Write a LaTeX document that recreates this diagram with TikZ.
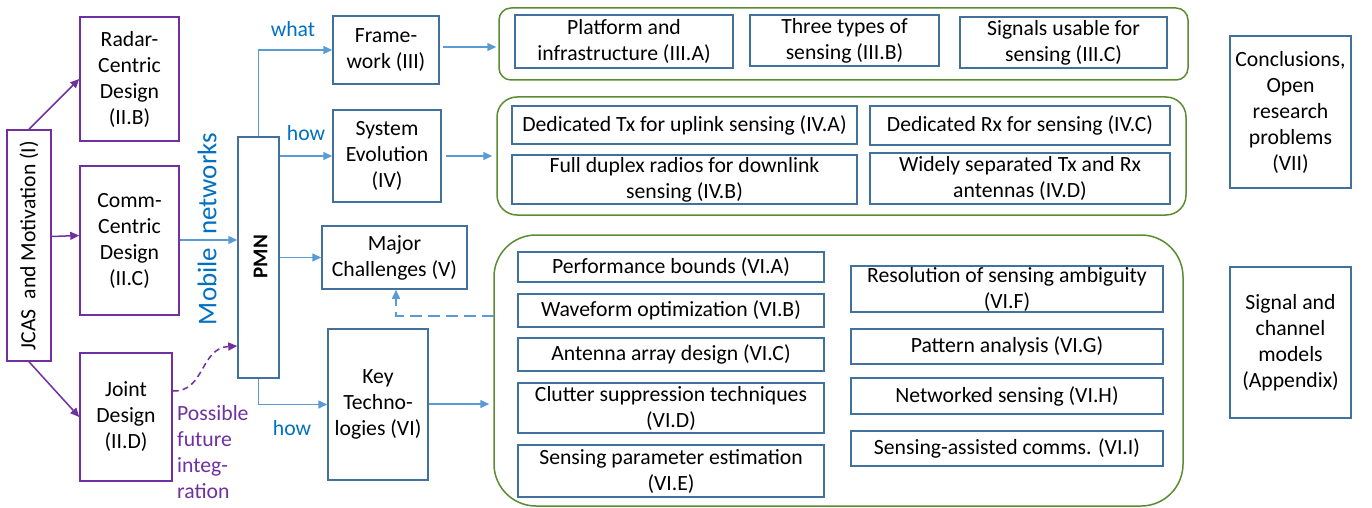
\documentclass[tikz,border=0pt]{standalone}
\usepackage{fontspec}
\setmainfont{Carlito}
\usetikzlibrary{arrows.meta}
\definecolor{purp}{HTML}{7030A0}
\definecolor{bboxc}{HTML}{41719C}
\definecolor{arrc}{HTML}{5B9BD5}
\definecolor{lblc}{HTML}{0070C0}
\definecolor{grn}{HTML}{5B8C32}
\tikzset{
  txt/.style={font=\fontsize{21.7}{26}\selectfont, align=center, text=black},
  pbox/.style={draw=purp, line width=1.5pt, inner sep=0pt, txt},
  bbox/.style={draw=bboxc, line width=1.5pt, inner sep=0pt, txt},
  gbox/.style={draw=grn, line width=1.5pt, inner sep=0pt},
  parr/.style={draw=purp, line width=1.5pt, -{Triangle[length=9pt,width=8pt]}},
  barr/.style={draw=arrc, line width=1.5pt, -{Triangle[length=9pt,width=8pt]}},
  lbl/.style={font=\fontsize{21.7}{26}\selectfont, text=lblc},
}
\begin{document}
\begin{tikzpicture}[x=1pt,y=-1pt]
\useasboundingbox (0,0) rectangle (1372,508);
% left purple part
\node[pbox, minimum width=44pt, minimum height=231pt] (jcas) at (29,245.5) {};
\node[txt, rotate=90] (jcastext) at (jcas.center) {JCAS\ \ and Motivation (I)};
\node[pbox, minimum width=99pt, minimum height=124pt] (radar) at (129.5,79) {Radar-\\Centric\\Design\\(II.B)};
\node[pbox, minimum width=99pt, minimum height=149pt] (comm) at (129.5,240.5) {Comm-\\Centric\\Design\\(II.C)};
\node[pbox, minimum width=92pt, minimum height=128pt] (joint) at (126,417) {Joint\\Design\\(II.D)};
\node[font=\fontsize{21.7}{26}\selectfont, text=purp, align=left, anchor=west, inner sep=0pt] (poss) at (177,452.5) {Possible\\future\\integ-\\ration};
\draw[parr] (jcas.north) -- (radar.west);
\draw[parr] (jcas.east |- comm.west) ++(0,-4) coordinate (cs) -- ([yshift=5pt]comm.west);
\draw[parr] (jcas.south) -- (joint.west);
% mobile networks
\node[font=\fontsize{27}{32}\selectfont, text=lblc, rotate=90, inner sep=0pt] (mobnet) at (207,229) {Mobile\hspace{13pt}networks};
% PMN
\node[bbox, minimum width=41pt, minimum height=241pt] (pmn) at (258.5,257.5) {};
\node[font=\fontsize{21}{26}\selectfont\bfseries, rotate=90, inner sep=0pt] (pmntext) at (260.5,256.5) {PMN};
\draw[barr] (comm.east |- 0,240) coordinate (cm) -- (pmn.west |- cm);
\draw[purp, line width=1.5pt, dashed, dash pattern=on 6pt off 4pt, -{Triangle[length=9pt,width=8pt]}] ([yshift=26pt]joint.east) .. controls (205,392) and (200,348) .. ([yshift=-88.5pt]pmn.west);
% middle column
\node[bbox, minimum width=106pt, minimum height=68pt] (frame) at (386,50) {Frame-\\work (III)};
\node[bbox, minimum width=108pt, minimum height=92pt] (sys) at (387,156) {System\\Evolution\\(IV)};
\node[bbox, minimum width=145pt, minimum height=63pt] (major) at (394.5,257.5) {Major\\Challenges (V)};
\node[bbox, minimum width=100pt, minimum height=151pt] (key) at (378,404.5) {Key\\Techno-\\logies (VI)};
\draw[barr] (pmn.north) |- (frame.west);
\draw[barr] (pmn.east |- sys.west) -- (sys.west);
\draw[barr] (pmn.east |- major.west) -- (major.west);
\draw[barr] (pmn.south) |- (key.west);
\node[lbl] (what) at (293,29) {what};
\node[lbl] (how1) at (306,133) {how};
\node[lbl] (how2) at (292,428) {how};
% green containers
\node[gbox, rounded corners=12pt, minimum width=689pt, minimum height=72pt] (g1) at (843.5,44) {};
\node[gbox, rounded corners=20pt, minimum width=689pt, minimum height=118pt] (g2) at (841.5,156) {};
\node[gbox, rounded corners=42pt, minimum width=689pt, minimum height=271pt] (g3) at (838.5,370.5) {};
\draw[barr, shorten <=3pt, shorten >=2pt] (frame.east |- 0,47) coordinate (fe) -- (g1.west |- fe);
\draw[barr, shorten <=4pt, shorten >=4pt] (sys.east) -- (g2.west |- sys.east);
\draw[barr, shorten >=4pt] (key.east |- 0,404) coordinate (ke) -- (g3.west |- ke);
\coordinate (dj) at (494,316);
\draw[arrc, line width=1.5pt, dash pattern=on 12pt off 6pt, -{Triangle[length=9pt,width=8pt]}] (dj) -| ([xshift=1.5pt]major.south);
% group 1
\node[bbox, minimum width=218pt, minimum height=53pt] (plat) at (624,41.5) {Platform and\\infrastructure (III.A)};
\node[bbox, minimum width=189pt, minimum height=51pt] (three) at (844.5,40.5) {Three types of\\sensing (III.B)};
\node[bbox, minimum width=207pt, minimum height=51pt] (sig) at (1063.5,42.5) {Signals usable for\\sensing (III.C)};
% group 2
\node[bbox, minimum width=345pt, minimum height=38pt] (dtx) at (684.5,125) {Dedicated Tx for uplink sensing (IV.A)};
\node[bbox, minimum width=345pt, minimum height=49pt] (fdx) at (684.5,179.5) {Full duplex radios for downlink\\sensing (IV.B)};
\node[bbox, minimum width=300pt, minimum height=39pt] (drx) at (1020,125.5) {Dedicated Rx for sensing (IV.C)};
\node[bbox, minimum width=300pt, minimum height=51pt] (wide) at (1020,178.5) {Widely separated Tx and Rx\\antennas (IV.D)};
% group 3 left
\node[bbox, minimum width=306pt, minimum height=30pt] (perf) at (671,267) {Performance bounds (VI.A)};
\node[bbox, minimum width=306pt, minimum height=33pt] (wave) at (671,310.5) {Waveform optimization (VI.B)};
\node[bbox, minimum width=306pt, minimum height=33pt] (ant) at (671,354.5) {Antenna array design (VI.C)};
\node[bbox, minimum width=306pt, minimum height=50pt] (clut) at (671,408) {Clutter suppression techniques\\(VI.D)};
\node[bbox, minimum width=306pt, minimum height=52pt] (spe) at (671,471) {Sensing parameter estimation\\(VI.E)};
% group 3 right
\node[bbox, minimum width=312pt, minimum height=46pt] (res) at (1007,289) {Resolution of sensing ambiguity\\(VI.F)};
\node[bbox, minimum width=312pt, minimum height=35pt] (pat) at (1007,346.5) {Pattern analysis (VI.G)};
\node[bbox, minimum width=312pt, minimum height=36pt] (net) at (1007,396) {Networked sensing (VI.H)};
\node[bbox, minimum width=312pt, minimum height=35pt] (sac) at (1007,448.5) {Sensing-assisted comms. (VI.I)};
% right column
\node[bbox, minimum width=121pt, minimum height=152pt] (concl) at (1290.5,112) {Conclusions,\\Open\\research\\problems\\(VII)};
\node[bbox, minimum width=121pt, minimum height=151pt] (sigch) at (1290.5,342.5) {Signal and\\channel\\models\\(Appendix)};
\end{tikzpicture}
\end{document}
